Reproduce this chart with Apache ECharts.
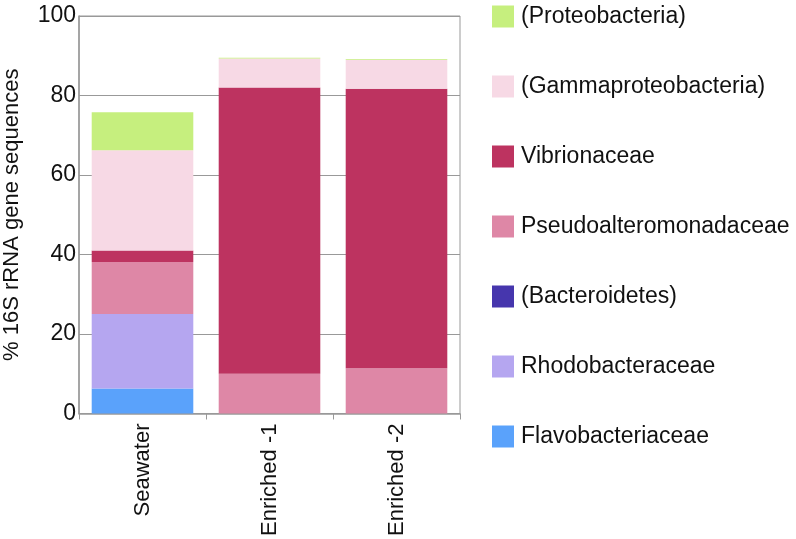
<!DOCTYPE html>
<html>
<head>
<meta charset="utf-8">
<script src="https://cdn.jsdelivr.net/npm/echarts@6/dist/echarts.min.js"></script>
<style>
  html, body { margin: 0; padding: 0; background: #fff; }
  #chart { width: 796px; height: 539px; }
</style>
</head>
<body>
<div id="chart"></div>
<script>
  // samples along x
  const categories = ['Seawater', 'Enriched -1', 'Enriched -2']

  // % of 16S rRNA gene sequences, stacked bottom -> top
  const flavobacteriaceae = [6.3, 0, 0]
  const rhodobacteraceae = [18.7, 0, 0]
  const bacteroidetes = [0, 0, 0]
  const pseudoalteromonadaceae = [13.1, 10.0, 11.4]
  const vibrionaceae = [2.9, 72.0, 70.3]
  const gammaproteobacteria = [25.2, 7.3, 7.3]
  const proteobacteria = [9.6, 0.2, 0.2]

  const yTicks = [0, 20, 40, 60, 80, 100]

  const font = 'Liberation Sans, Arial, Helvetica, sans-serif'

  const seriesDefs = [
    { name: 'Flavobacteriaceae', data: flavobacteriaceae, color: '#5aa2fb' },
    { name: 'Rhodobacteraceae', data: rhodobacteraceae, color: '#b5a6f0' },
    { name: '(Bacteroidetes)', data: bacteroidetes, color: '#4636ad' },
    { name: 'Pseudoalteromonadaceae', data: pseudoalteromonadaceae, color: '#de87a6' },
    { name: 'Vibrionaceae', data: vibrionaceae, color: '#bd3360' },
    { name: '(Gammaproteobacteria)', data: gammaproteobacteria, color: '#f7d9e5' },
    { name: '(Proteobacteria)', data: proteobacteria, color: '#c6ef7e' }
  ]

  const chart = echarts.init(document.getElementById('chart'))
  chart.setOption({
    animation: false,
    textStyle: { fontFamily: font },
    grid: {
      left: 78, right: 336, top: 16, bottom: 125,
      show: true, borderColor: '#999', borderWidth: 1
    },
    legend: {
      orient: 'vertical',
      left: 487,
      top: 0,
      itemWidth: 22,
      itemHeight: 22,
      itemGap: 47,
      icon: 'rect',
      data: seriesDefs.map(s => s.name).reverse(),
      textStyle: { fontSize: 23, color: '#111', fontFamily: font, padding: [0, 0, 0, 2] }
    },
    xAxis: {
      type: 'category',
      data: categories,
      axisLine: { lineStyle: { color: '#999', width: 1.5 } },
      axisTick: { show: true, length: 6, lineStyle: { color: '#999' } },
      axisLabel: { rotate: 90, fontSize: 22, color: '#111', margin: 10 }
    },
    yAxis: {
      type: 'value',
      min: yTicks[0],
      max: yTicks[yTicks.length - 1],
      interval: 20,
      name: '% 16S rRNA gene sequences',
      nameLocation: 'middle',
      nameGap: 56,
      nameTextStyle: { fontSize: 22, color: '#111' },
      axisLine: { show: true, lineStyle: { color: '#999', width: 1.5 } },
      axisTick: { show: false },
      axisLabel: { fontSize: 23, color: '#111', margin: 3 },
      splitLine: { lineStyle: { color: '#999', width: 1 } }
    },
    series: seriesDefs.map(s => ({
      name: s.name,
      type: 'bar',
      stack: 'total',
      barWidth: '80%',
      data: s.data,
      itemStyle: { color: s.color }
    }))
  })
</script>
</body>
</html>
